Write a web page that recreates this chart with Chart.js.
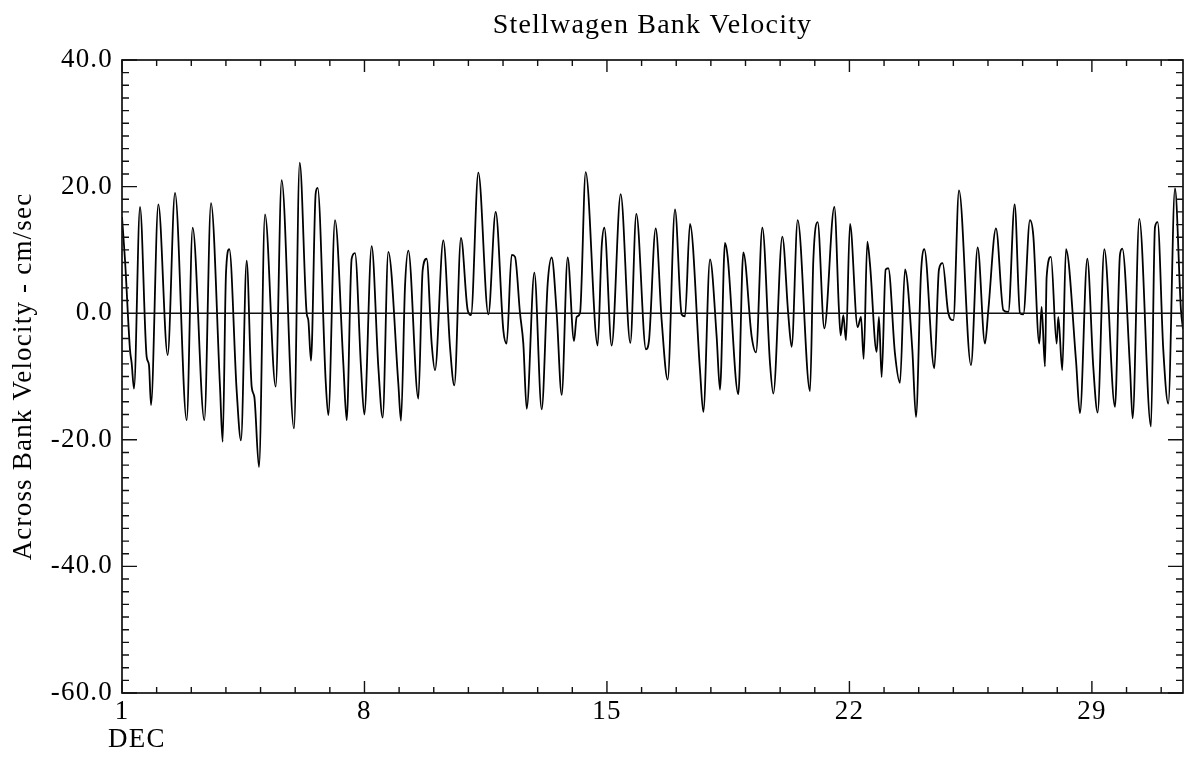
<!DOCTYPE html>
<html>
<head>
<meta charset="utf-8">
<script src="https://cdn.jsdelivr.net/npm/chart.js@4.4.1/dist/chart.umd.min.js"></script>
<style>
html, body { margin: 0; padding: 0; background: #fff; }
#wrap { width: 1187px; height: 762px; }
</style>
</head>
<body>
<div id="wrap"><canvas id="velChart"></canvas></div>
<script>
// time in days of December (1.0 = Dec 1 00:00)
const sampleDay = [
  1.000, 1.087, 1.231, 1.279, 1.346, 1.520, 1.712, 1.779, 1.837, 2.049,
  2.318, 2.530, 2.867, 3.040, 3.377, 3.569, 3.829, 3.906, 4.002, 4.098,
  4.310, 4.435, 4.599, 4.743, 4.820, 4.955, 5.128, 5.436, 5.609, 5.965,
  6.130, 6.331, 6.379, 6.456, 6.591, 6.648, 6.879, 6.956, 7.149, 7.389,
  7.486, 7.630, 7.726, 7.899, 7.995, 8.207, 8.400, 8.525, 8.688, 8.977,
  9.054, 9.170, 9.266, 9.555, 9.680, 9.795, 9.940, 10.036, 10.276, 10.469,
  10.594, 10.786, 10.979, 11.075, 11.287, 11.576, 11.788, 12.009, 12.105, 12.249,
  12.346, 12.490, 12.586, 12.683, 12.904, 13.116, 13.289, 13.404, 13.549, 13.693,
  13.866, 14.049, 14.126, 14.222, 14.386, 14.732, 14.848, 14.925, 15.136, 15.396,
  15.675, 15.848, 16.127, 16.214, 16.407, 16.579, 16.753, 16.964, 17.157, 17.253,
  17.397, 17.686, 17.782, 17.975, 18.167, 18.263, 18.408, 18.485, 18.793, 18.937,
  19.178, 19.303, 19.486, 19.707, 19.803, 20.063, 20.236, 20.332, 20.506, 20.862,
  20.958, 21.083, 21.275, 21.565, 21.698, 21.747, 21.824, 21.901, 22.016, 22.237,
  22.334, 22.411, 22.516, 22.593, 22.786, 22.853, 22.930, 23.046, 23.123, 23.315,
  23.459, 23.604, 23.816, 23.921, 24.066, 24.162, 24.451, 24.585, 24.691, 24.855,
  24.999, 25.163, 25.509, 25.702, 25.913, 26.010, 26.231, 26.443, 26.587, 26.770,
  26.923, 27.020, 27.212, 27.308, 27.481, 27.549, 27.645, 27.693, 27.818, 27.982,
  28.030, 28.145, 28.251, 28.540, 28.655, 28.867, 29.040, 29.165, 29.358, 29.666,
  29.810, 29.878, 30.099, 30.176, 30.368, 30.705, 30.821, 30.897, 31.061, 31.205,
  31.398, 31.571, 31.629
];

// across bank velocity, cm/sec
const acrossVel = [
  15.2, 8.4, -5.8, -7.9, -11.9, 16.8, -6.9, -8.2, -14.5, 17.2,
  -6.6, 19.0, -16.9, 13.5, -16.9, 17.4, -11.6, -20.3, 6.3, 10.1,
  -12.2, -20.1, 8.3, -11.6, -13.2, -24.3, 15.6, -11.6, 21.0, -18.2,
  23.8, 0.0, -1.1, -7.5, 18.9, 19.8, -10.6, -16.1, 14.7, -7.9,
  -16.9, 8.6, 9.5, -8.5, -16.0, 10.6, -8.5, -16.5, 9.7, -11.1,
  -17.0, 4.2, 9.9, -13.5, 6.8, 8.6, -4.8, -9.0, 11.5, -5.3,
  -11.4, 11.9, 0.5, -0.3, 22.2, -0.2, 16.0, -2.7, -4.8, 9.2,
  8.9, 0.0, -4.8, -15.1, 6.4, -15.2, 4.7, 8.8, 0.0, -12.9,
  8.8, -4.4, -0.6, 0.0, 22.3, -5.1, 10.5, 13.5, -5.1, 18.8,
  -4.7, 15.7, -5.7, -4.3, 13.4, -1.1, -10.5, 16.4, -0.2, -0.5,
  14.1, -9.0, -15.6, 8.5, -3.7, -12.1, 11.1, 8.9, -12.8, 9.6,
  -3.7, -6.2, 13.5, -7.9, -12.7, 12.1, -0.3, -5.3, 14.7, -12.3,
  8.4, 14.4, -2.4, 16.8, 0.5, -3.5, -0.3, -4.3, 14.1, -2.2,
  -0.6, -7.2, 11.3, 7.8, -6.1, -0.6, -10.1, 6.9, 7.1, -6.4,
  -11.0, 6.9, -5.8, -16.4, 6.3, 10.1, -8.7, 6.9, 7.9, 0.0,
  -1.1, 19.4, -8.2, 10.4, -4.8, 0.5, 13.4, 0.5, 0.2, 17.2,
  0.0, -0.2, 14.7, 12.3, -4.8, 1.0, -8.4, 5.7, 8.9, -4.8,
  -0.6, -9.0, 10.1, -7.4, -15.8, 8.6, -8.5, -15.7, 10.1, -14.8,
  9.2, 10.2, -8.5, -16.6, 14.9, -17.9, 13.6, 14.4, -5.8, -14.3,
  19.7, 0.5, -2.5
];

const dayLabels = [1, 8, 15, 22, 29];
const velLabels = [40, 20, 0, -20, -40, -60];
const monthLabel = 'DEC';

const serif = "'Liberation Serif', 'Times New Roman', serif";
const spread = '1.2px';

const points = sampleDay.map((d, i) => ({ x: d, y: acrossVel[i] }));

// old plotter text is widely spaced
const spacingPlugin = {
  id: 'spacing',
  beforeLayout(chart) { chart.ctx.letterSpacing = spread; },
  beforeDraw(chart) { chart.ctx.letterSpacing = spread; }
};

// box, zero line, inward ticks on all four sides, month name
const framePlugin = {
  id: 'frame',
  afterDatasetsDraw(chart) {
    const { ctx, chartArea: a, scales: { x, y } } = chart;
    ctx.save();
    ctx.strokeStyle = '#111';
    ctx.lineWidth = 1.4;
    ctx.beginPath();
    const y0 = y.getPixelForValue(0);
    ctx.moveTo(a.left, y0);
    ctx.lineTo(a.right, y0);
    x.ticks.forEach(t => {
      if (!Number.isInteger(t.value)) return;
      const px = x.getPixelForValue(t.value);
      const len = dayLabels.includes(t.value) ? 12 : 6;
      ctx.moveTo(px, a.bottom); ctx.lineTo(px, a.bottom - len);
      ctx.moveTo(px, a.top); ctx.lineTo(px, a.top + len);
    });
    y.ticks.forEach(t => {
      const py = y.getPixelForValue(t.value);
      const len = velLabels.includes(t.value) ? 15 : 7;
      ctx.moveTo(a.left, py); ctx.lineTo(a.left + len, py);
      ctx.moveTo(a.right, py); ctx.lineTo(a.right - len, py);
    });
    ctx.stroke();
    ctx.lineWidth = 1.7;
    ctx.strokeRect(a.left, a.top, a.right - a.left, a.bottom - a.top);

    ctx.fillStyle = '#000';
    ctx.font = '27px ' + serif;
    ctx.textAlign = 'left';
    ctx.textBaseline = 'middle';
    ctx.fillText(monthLabel, x.getPixelForValue(dayLabels[0]) - 14, a.bottom + 47);
    ctx.restore();
  }
};

const ctx = document.getElementById('velChart').getContext('2d');

const velChart = new Chart(ctx, {
  type: 'line',
  data: {
    datasets: [{
      data: points,
      borderColor: '#000',
      borderWidth: 1.8,
      pointRadius: 0,
      fill: false,
      tension: 0.3,
      cubicInterpolationMode: 'monotone'
    }]
  },
  options: {
    responsive: true,
    maintainAspectRatio: false,
    animation: false,
    layout: { padding: { left: 0, right: 4, top: 0, bottom: 0 } },
    scales: {
      x: {
        type: 'linear',
        min: 1,
        max: 31.63,
        afterFit(s) { s.height = 69; },
        grid: { display: false, drawTicks: false },
        border: { display: false },
        ticks: {
          stepSize: 1,
          includeBounds: false,
          autoSkip: false,
          maxRotation: 0,
          padding: 3,
          color: '#000',
          font: { family: serif, size: 27 },
          callback: v => dayLabels.includes(v) ? String(v) : ''
        }
      },
      y: {
        min: -60,
        max: 40,
        afterFit(s) { s.width = 122; },
        grid: { display: false, drawTicks: false },
        border: { display: false },
        ticks: {
          stepSize: 2,
          autoSkip: false,
          padding: 9,
          color: '#000',
          font: { family: serif, size: 27 },
          callback: v => velLabels.includes(v) ? v.toFixed(1) : ''
        },
        title: {
          display: true,
          text: 'Across Bank Velocity - cm/sec',
          color: '#000',
          font: { family: serif, size: 27 },
          padding: { top: 8, bottom: 0 }
        }
      }
    },
    plugins: {
      legend: { display: false },
      tooltip: { enabled: false },
      title: {
        display: true,
        text: 'Stellwagen Bank Velocity',
        color: '#000',
        fullSize: false,
        font: { family: serif, size: 28, weight: 'normal', lineHeight: 1.2 },
        padding: { top: 9, bottom: 17.4 }
      }
    }
  },
  plugins: [spacingPlugin, framePlugin]
});
</script>
</body>
</html>
